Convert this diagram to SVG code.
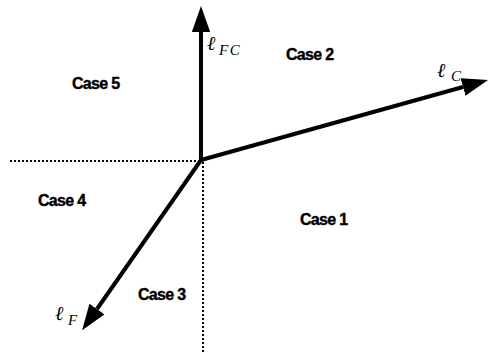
<svg xmlns="http://www.w3.org/2000/svg" width="491" height="353" viewBox="0 0 491 353">
<style>
.case{font-family:"Liberation Sans",Arial,sans-serif;font-weight:bold;font-size:16px;letter-spacing:-0.7px;fill:#000;stroke:#000;stroke-width:0.4}
.ell{font-family:"DejaVu Serif","Liberation Serif",serif;font-style:italic;font-size:20px;fill:#000}
.sub{font-family:"Liberation Serif",serif;font-style:italic;font-size:15px;letter-spacing:1.5px;fill:#000}
.dot{stroke:#000;stroke-width:2;stroke-dasharray:2 2;fill:none}
.ax{stroke:#000;stroke-width:4;fill:none}
</style>
<defs>
<marker id="ah" markerWidth="6.5" markerHeight="4.6" refX="0" refY="2.3" orient="auto" markerUnits="strokeWidth" viewBox="0 0 6.5 4.6">
<path d="M0,0 L6.5,2.3 L0,4.6 z" fill="#000"/>
</marker>
</defs>
<g id="connectors">
<line class="dot" x1="10" y1="161" x2="202" y2="161"/>
<line class="dot" x1="203" y1="162" x2="203" y2="353"/>
<line id="e-fc" class="ax" x1="201" y1="160" x2="201" y2="32" marker-end="url(#ah)"/>
<line id="e-c" class="ax" x1="201" y1="160" x2="463" y2="87" marker-end="url(#ah)"/>
<line id="e-f" class="ax" x1="201" y1="160" x2="97" y2="309" marker-end="url(#ah)"/>
</g>
<g id="label-fc"><text x="207" y="50" class="ell">ℓ</text><text x="219" y="55" class="sub">FC</text></g>
<g id="label-c"><text x="437" y="77" class="ell">ℓ</text><text x="451" y="81" class="sub">C</text></g>
<g id="label-f"><text x="55" y="320" class="ell">ℓ</text><text x="68" y="325" class="sub">F</text></g>
<g id="case5"><text x="72" y="89" class="case">Case 5</text></g>
<g id="case2"><text x="286" y="60" class="case">Case 2</text></g>
<g id="case4"><text x="38" y="206" class="case">Case 4</text></g>
<g id="case1"><text x="300" y="225" class="case">Case 1</text></g>
<g id="case3"><text x="138" y="300" class="case">Case 3</text></g>
</svg>
